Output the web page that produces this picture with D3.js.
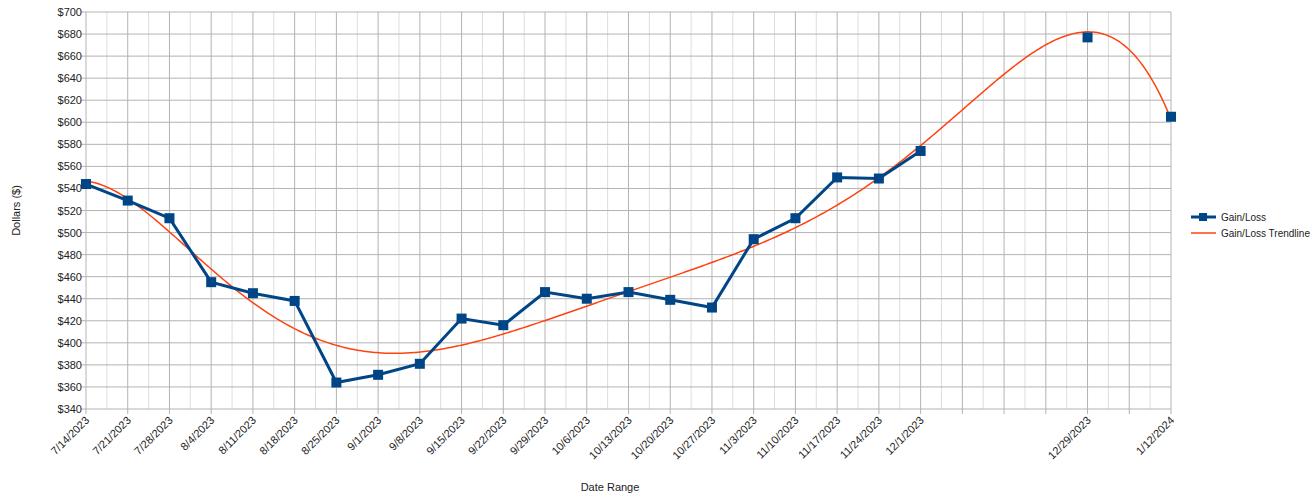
<!DOCTYPE html>
<html><head><meta charset="utf-8">
<script src="https://cdn.jsdelivr.net/npm/d3@7"></script>
<style>body{margin:0;background:#fff;font-family:"Liberation Sans",Arial,sans-serif}</style>
</head><body><svg id="c" width="1314" height="499"></svg>
<script>
const dates = ["7/14/2023","7/21/2023","7/28/2023","8/4/2023","8/11/2023","8/18/2023","8/25/2023","9/1/2023","9/8/2023","9/15/2023","9/22/2023","9/29/2023","10/6/2023","10/13/2023","10/20/2023","10/27/2023","11/3/2023","11/10/2023","11/17/2023","11/24/2023","12/1/2023","12/29/2023","1/12/2024"];
const values = [544,529,513,455,445,438,364,371,381,422,416,446,440,446,439,432,494,513,550,549,574,677,605];
const yTicks = [340,360,380,400,420,440,460,480,500,520,540,560,580,600,620,640,660,680,700];
const seriesName = "Gain/Loss", trendName = "Gain/Loss Trendline";

const parse = d3.timeParse("%-m/%-d/%Y");
const fmt = d3.timeFormat("%-m/%-d/%Y");
const pts = dates.map((d,i)=>({d:parse(d),v:values[i]}));
const svg = d3.select("#c");
const L=86,R=1171,T=12,B=409;
const x = d3.scaleTime().domain([parse("7/14/2023"),parse("1/12/2024")]).range([L,R]);
const y = d3.scaleLinear().domain([340,700]).range([B,T]);
const weeks = d3.timeDay.range(parse("7/14/2023"),d3.timeDay.offset(parse("1/12/2024"),1),7);
const halfs = weeks.slice(0,-1).map(w=>d3.timeHour.offset(w,84));
const g = svg.append("g");
g.selectAll(".mn").data(halfs).enter().append("line").attr("x1",d=>x(d)).attr("x2",d=>x(d)).attr("y1",T).attr("y2",B).attr("stroke","#dddddd");
g.selectAll(".hy").data(yTicks).enter().append("line").attr("x1",L).attr("x2",R).attr("y1",d=>y(d)).attr("y2",d=>y(d)).attr("stroke","#b3b3b3");
g.selectAll(".mj").data(weeks).enter().append("line").attr("x1",d=>x(d)).attr("x2",d=>x(d)).attr("y1",T).attr("y2",B+5).attr("stroke","#b3b3b3");
g.selectAll(".yt").data(yTicks).enter().append("line").attr("x1",L-5).attr("x2",L).attr("y1",d=>y(d)).attr("y2",d=>y(d)).attr("stroke","#b3b3b3");
g.selectAll(".yl").data(yTicks).enter().append("text").attr("x",L-4).attr("y",d=>y(d)+4).attr("text-anchor","end").attr("font-size",11).attr("fill","#222").text(d=>"$"+d);
const labelled = new Set(dates);
g.selectAll(".xl").data(weeks.filter(w=>labelled.has(fmt(w)))).enter().append("text")
 .attr("transform",d=>`translate(${x(d)+4},${B+12}) rotate(-45)`).attr("text-anchor","end").attr("font-size",11).attr("fill","#222").text(d=>fmt(d));
function polyfit(xs,ys,n){const m=n+1;const A=[...Array(m)].map(()=>Array(m+1).fill(0));
 for(let k=0;k<xs.length;k++){for(let i=0;i<m;i++){for(let j=0;j<m;j++)A[i][j]+=Math.pow(xs[k],i+j);A[i][m]+=ys[k]*Math.pow(xs[k],i);}}
 for(let i=0;i<m;i++){let p=i;for(let r=i+1;r<m;r++)if(Math.abs(A[r][i])>Math.abs(A[p][i]))p=r;[A[i],A[p]]=[A[p],A[i]];
  for(let r=0;r<m;r++){if(r===i)continue;const f=A[r][i]/A[i][i];for(let c=i;c<=m;c++)A[r][c]-=f*A[i][c];}}
 return A.map((r,i)=>r[m]/r[i]);}
const t0=pts[0].d, span=pts[pts.length-1].d-t0;
const xs=pts.map(p=>(p.d-t0)/span), c=polyfit(xs,values,6);
const tr=d3.range(0,1.0001,0.002).map(u=>({u,v:c.reduce((s,a,i)=>s+a*Math.pow(u,i),0)}));
svg.append("path").datum(tr).attr("fill","none").attr("stroke","#ff420e").attr("stroke-width",1.5)
 .attr("d",d3.line().x(d=>L+d.u*(R-L)).y(d=>y(d.v)));
// the series line is broken after 12/1 (no data for 12/8–12/22 and 1/5)
const nextWeek = (a,b)=>Math.round((b.d-a.d)/864e5)===7;
const contig = pts.map((p,i)=>({...p,ok: i===0 || nextWeek(pts[i-1],p) || (i+1<pts.length && nextWeek(p,pts[i+1]))}));
const segs=[];let cur=[];
pts.forEach((p,i)=>{if(i>0 && !nextWeek(pts[i-1],p)){segs.push(cur);cur=[];}cur.push(p);});segs.push(cur);
svg.selectAll(".seg").data(segs.filter(s=>s.length>1)).enter().append("path").attr("fill","none").attr("stroke","#004586").attr("stroke-width",3)
 .attr("d",d3.line().x(d=>x(d.d)).y(d=>y(d.v)));
svg.selectAll(".pt").data(pts).enter().append("rect").attr("x",d=>x(d.d)-5).attr("y",d=>y(d.v)-5).attr("width",10).attr("height",10).attr("fill","#004586");
svg.append("text").attr("transform",`translate(20,${(T+B)/2}) rotate(-90)`).attr("text-anchor","middle").attr("font-size",11).attr("fill","#222").text("Dollars ($)");
svg.append("text").attr("x",610).attr("y",491).attr("text-anchor","middle").attr("font-size",11).attr("fill","#222").text("Date Range");
const lg=svg.append("g");
lg.append("line").attr("x1",1191).attr("x2",1216).attr("y1",217).attr("y2",217).attr("stroke","#004586").attr("stroke-width",3);
lg.append("rect").attr("x",1199).attr("y",213).attr("width",8).attr("height",8).attr("fill","#004586");
lg.append("text").attr("x",1221).attr("y",221).attr("font-size",10).attr("fill","#222").text(seriesName);
lg.append("line").attr("x1",1191).attr("x2",1216).attr("y1",233).attr("y2",233).attr("stroke","#ff420e").attr("stroke-width",1.5);
lg.append("text").attr("x",1221).attr("y",237).attr("font-size",10).attr("fill","#222").text(trendName);
</script></body></html>
